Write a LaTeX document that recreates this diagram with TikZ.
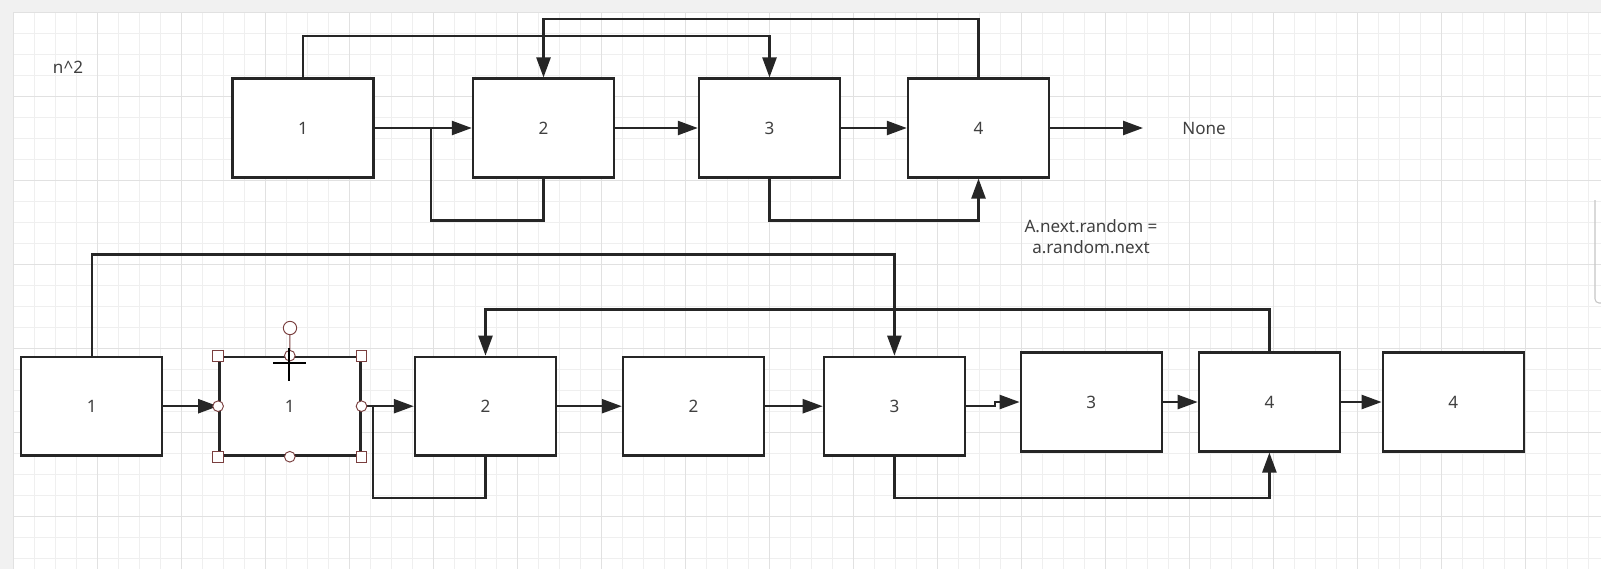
\documentclass[tikz,border=0pt]{standalone}
\usepackage{fontspec}
\setmainfont{Noto Sans}
\usetikzlibrary{arrows.meta}
\definecolor{lineClr}{HTML}{262626}
\definecolor{textClr}{HTML}{404040}
\definecolor{selClr}{HTML}{7A3F3F}
\definecolor{gridMinor}{HTML}{EFEFEF}
\definecolor{gridMajor}{HTML}{E1E1E1}
\definecolor{paneClr}{HTML}{F1F1F1}

\begin{document}
\begin{tikzpicture}[x=0.75pt, y=-0.75pt,
  every node/.style={font=\fontsize{12.8}{15.75}\selectfont, text=textClr},
  cell/.style={draw=lineClr, line width=1.8pt, fill=white, minimum width=105.75pt, minimum height=74pt, inner sep=0pt},
  link/.style={draw=lineClr, line width=1.8pt, -{Triangle[length=15pt,width=10.5pt]}},
  wire/.style={draw=lineClr, line width=1.8pt},
  hsq/.style={draw=selClr, fill=white, line width=0.7pt, minimum size=8pt, inner sep=0pt},
  hdot/.style={circle, draw=selClr, fill=white, line width=0.7pt, minimum size=8pt, inner sep=0pt}]
  \useasboundingbox (0,0) rectangle (1601,569);

  % canvas and grid
  \fill[paneClr] (0,0) rectangle (1601,569);
  \fill[white] (13,12) rectangle (1601,569);
  \foreach \i in {0,...,75} \draw[gridMinor, line width=0.75pt] ({13+21*\i},12) -- ({13+21*\i},569);
  \foreach \j in {0,...,26} \draw[gridMinor, line width=0.75pt] (13,{12+21*\j}) -- (1601,{12+21*\j});
  \foreach \i in {0,...,18} \draw[gridMajor, line width=0.75pt] ({13+84*\i},12) -- ({13+84*\i},569);
  \foreach \j in {0,...,6} \draw[gridMajor, line width=0.75pt] (13,{12+84*\j}) -- (1601,{12+84*\j});
  \draw[gray!45, line width=0.8pt, rounded corners=3pt] (1595,200) -- (1595,303) -- (1601,303);

  \node (cost) at (68,67) {n\textasciicircum 2};

  % first list
  \node[cell] (t1) at (303,128) {1};
  \node[cell] (t2) at (543.5,128) {2};
  \node[cell] (t3) at (769.5,128) {3};
  \node[cell] (t4) at (978.5,128) {4};
  \node (none) at (1204,128) {None};
  \coordinate (tnil) at (1143,128);
  \coordinate (j1) at (431,128);

  \draw[link] (t1) -- (t2);
  \draw[link] (t2) -- (t3);
  \draw[link] (t3) -- (t4);
  \draw[link] (t4.east) -- (tnil);
  \draw[link] (t1.north) -- ++(0,-41.7) -| (t3.north);
  \draw[link] (t4.north) -- ++(0,-58.7) -| (t2.north);
  \draw[wire] (t2.south) -- ++(0,42) -| (j1);
  \draw[link] (t3.south) -- ++(0,42) -| (t4.south);

  \node[align=center] (rule) at (1091,237) {A.next.random =\\a.random.next};

  % copied list
  \node[cell] (b1) at (91.7,406.2) {1};
  \node[cell] (c1) at (289.8,406.2) {1};
  \node[cell] (b2) at (485.5,406.2) {2};
  \node[cell] (c2) at (693.5,406.2) {2};
  \node[cell] (b3) at (894.4,406.2) {3};
  \node[cell] (c3) at (1091.3,402) {3};
  \node[cell] (b4) at (1269.4,402) {4};
  \node[cell] (c4) at (1453.3,402) {4};
  \coordinate (j2) at (373,406.2);

  \draw[link] (b1) -- (c1);
  \draw[link] (c1) -- (b2);
  \draw[link] (b2) -- (c2);
  \draw[link] (c2) -- (b3);
  \draw[link] (b3.east) -- ++(29,0) |- (c3.west);
  \draw[link] (c3) -- (b4);
  \draw[link] (b4) -- (c4);
  \draw[link] (b1.north) -- ++(0,-101) -| (b3.north);
  \draw[link] (b4.north) -- ++(0,-41.8) -| (b2.north);
  \draw[wire] (b2.south) -- ++(0,41.5) -| (j2);
  \draw[link] (b3.south) -- ++(0,41.5) -| (b4.south);

  % selection handles
  \node[hdot, minimum size=10pt] (rot) at (290,328) {};
  \draw[selClr, line width=0.7pt] (rot) -- (c1.north);
  \foreach \a in {north west,north east,south west,south east} \node[hsq] at (c1.\a) {};
  \foreach \a in {north,south,east,west} \node[hdot] at (c1.\a) {};
  \coordinate (cur) at (289,363);
  \draw[black, line width=1.8pt] (cur) +(-16,0) -- +(17,0);
  \draw[black, line width=1.8pt] (cur) +(0,-15) -- +(0,18);
\end{tikzpicture}
\end{document}
